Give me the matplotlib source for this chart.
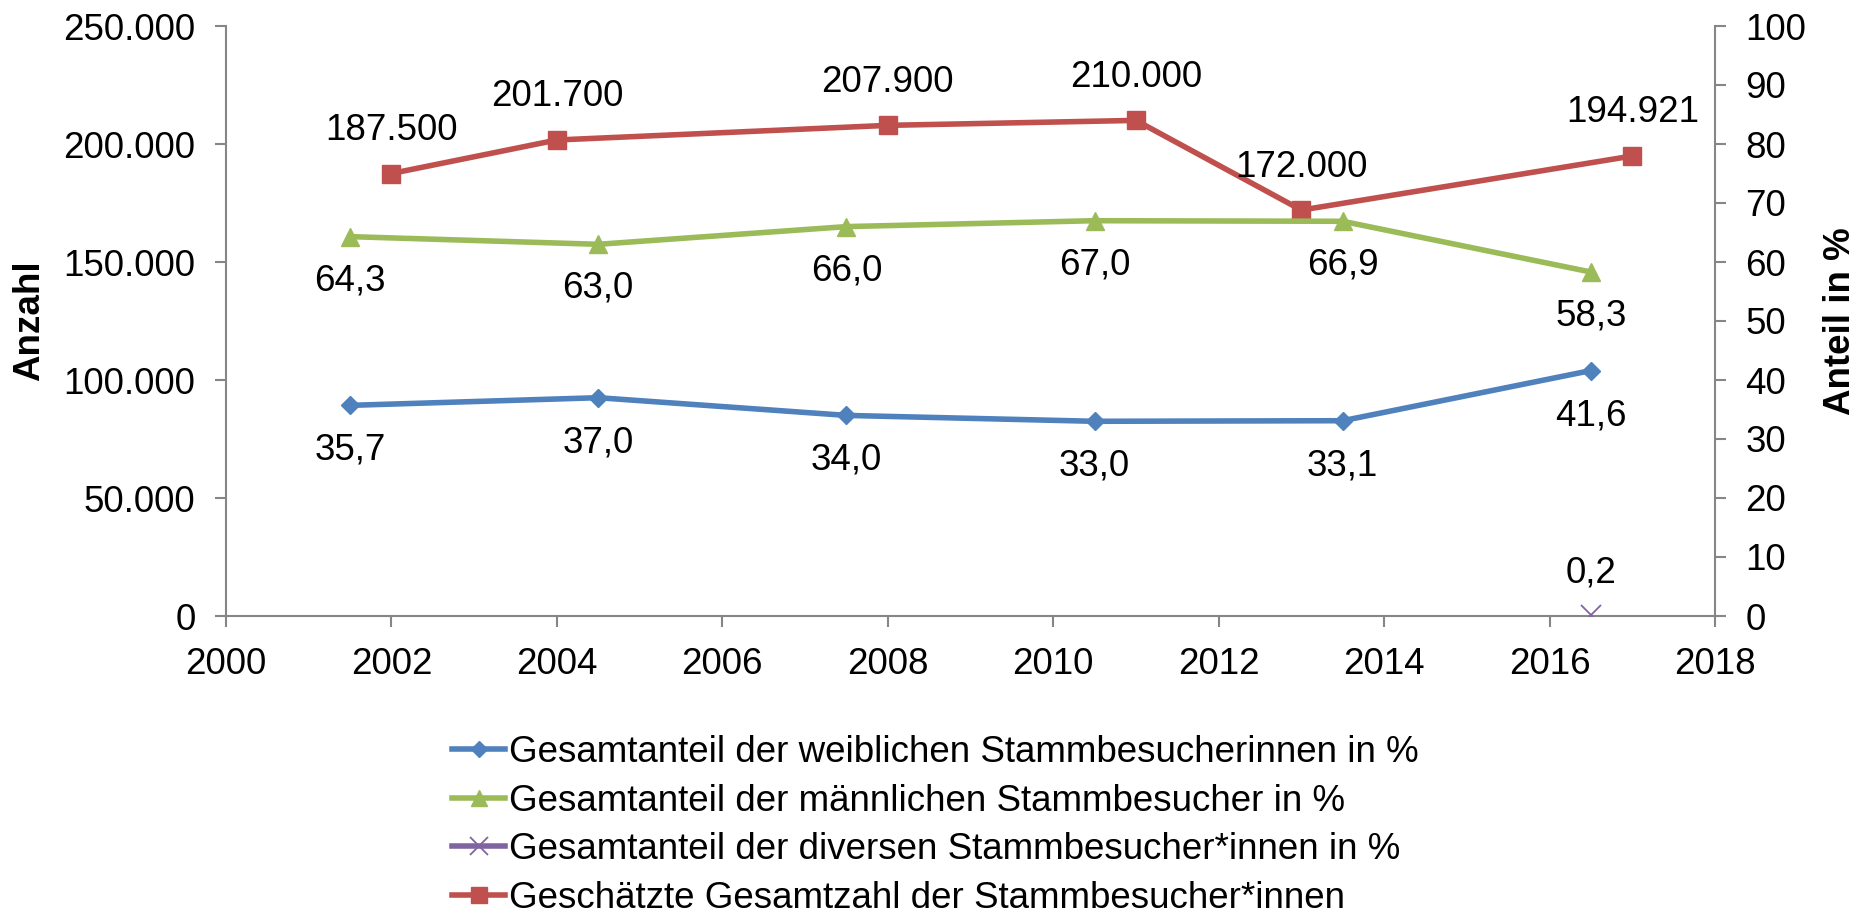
import matplotlib
matplotlib.use("Agg")
import matplotlib.pyplot as plt
from matplotlib.ticker import FuncFormatter, MultipleLocator

FS = 26.5
plt.rcParams['font.family'] = ['Liberation Sans', 'DejaVu Sans']

# ---- data ----
years_total = [2002, 2004, 2008, 2011, 2013, 2017]
total_count = [187500, 201700, 207900, 210000, 172000, 194921]

years_share = [2001.5, 2004.5, 2007.5, 2010.5, 2013.5, 2016.5]
female_pct = [35.7, 37.0, 34.0, 33.0, 33.1, 41.6]
male_pct = [64.3, 63.0, 66.0, 67.0, 66.9, 58.3]

years_diverse = [2016.5]
diverse_pct = [0.2]

labels = [
    "Gesamtanteil der weiblichen Stammbesucherinnen in %",
    "Gesamtanteil der männlichen Stammbesucher in %",
    "Gesamtanteil der diversen Stammbesucher*innen in %",
    "Geschätzte Gesamtzahl der Stammbesucher*innen",
]

C_BLUE = "#4F81BD"
C_GREEN = "#9BBB59"
C_PURPLE = "#8064A2"
C_RED = "#C0504D"
C_AX = "#868686"

W, H = 1866, 918
fig = plt.figure(figsize=(W / 100, H / 100), dpi=100)
L, R, T, B = 226, 1715, 26, 616
ax = fig.add_axes([L / W, 1 - B / H, (R - L) / W, (B - T) / H])
ax2 = ax.twinx()

def de_thousands(v, pos=None):
    return f"{int(round(v)):,}".replace(",", ".")

def de_dec(v):
    return f"{v:.1f}".replace(".", ",")

LW = 4.0
l_red, = ax.plot(years_total, total_count, color=C_RED, lw=LW, marker="s",
                 ms=13.5, mec=C_RED, mfc=C_RED, zorder=3)
for x, y in zip(years_total, total_count):
    ax.annotate(de_thousands(y), (x, y), xytext=(0, 43), textcoords="offset pixels",
                ha="center", va="center", fontsize=FS, zorder=5)

l_blue, = ax2.plot(years_share, female_pct, color=C_BLUE, lw=LW, marker="D",
                   ms=9.5, mec=C_BLUE, mfc=C_BLUE)
l_green, = ax2.plot(years_share, male_pct, color=C_GREEN, lw=LW, marker="^",
                    ms=13, mec=C_GREEN, mfc=C_GREEN)
l_purple, = ax2.plot(years_diverse, diverse_pct, color=C_PURPLE, lw=LW, marker="x",
                     ms=14, mew=1.3, mec=C_PURPLE)
for x, y in zip(years_share, female_pct):
    ax2.annotate(de_dec(y), (x, y), xytext=(0, -45), textcoords="offset pixels",
                 ha="center", va="center", fontsize=FS)
for x, y in zip(years_share, male_pct):
    ax2.annotate(de_dec(y), (x, y), xytext=(0, -44), textcoords="offset pixels",
                 ha="center", va="center", fontsize=FS)
for x, y in zip(years_diverse, diverse_pct):
    ax2.annotate(de_dec(y), (x, y), xytext=(0, 42), textcoords="offset pixels",
                 ha="center", va="center", fontsize=FS)

ax.set_xlim(2000, 2018)
ax.set_ylim(0, 250000)
ax2.set_ylim(0, 100)
ax.xaxis.set_major_locator(MultipleLocator(2))
ax.yaxis.set_major_locator(MultipleLocator(50000))
ax2.yaxis.set_major_locator(MultipleLocator(10))
ax.yaxis.set_major_formatter(FuncFormatter(de_thousands))

for a in (ax, ax2):
    for s in a.spines.values():
        s.set_visible(False)
ax.spines["left"].set_visible(True)
ax.spines["bottom"].set_visible(True)
ax2.spines["right"].set_visible(True)
for s in (ax.spines["left"], ax.spines["bottom"], ax2.spines["right"]):
    s.set_color(C_AX)
    s.set_linewidth(1.5)

ax.tick_params(axis="both", direction="out", length=8, width=1.5, color=C_AX,
               labelsize=FS, pad=14)
ax2.tick_params(axis="y", direction="out", length=8, width=1.5, color=C_AX,
                labelsize=FS, pad=14)

fig.text(30 / W, 1 - 321 / H, "Anzahl", rotation=90, ha="center", va="center",
         fontsize=26.5, fontweight="bold")
fig.text(1841 / W, 1 - 321 / H, "Anteil in %", rotation=90, ha="center", va="center",
         fontsize=26.5, fontweight="bold")

fig.legend([l_blue, l_green, l_purple, l_red], labels, loc="upper left",
           bbox_to_anchor=(452 / W, 1 - 735 / H), frameon=False, fontsize=FS,
           handlelength=1.45, handletextpad=0.1, labelspacing=0.37,
           borderpad=0, borderaxespad=0, markerscale=0.9)

fig.savefig("out.png", dpi=100)
